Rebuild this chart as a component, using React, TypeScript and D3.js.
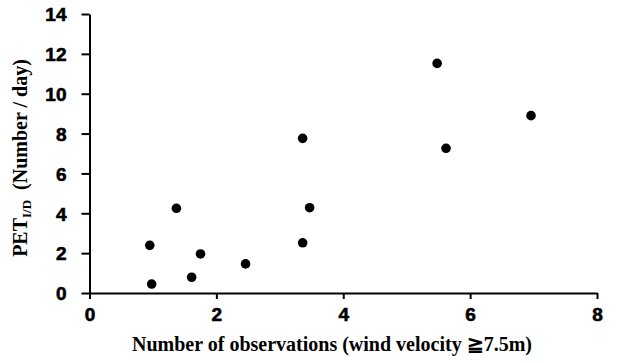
import React, { useEffect, useRef } from 'react';
import * as d3 from 'd3';

// observations (x) vs PET I/D (y)
const obsCount = [0.95, 0.98, 1.37, 1.61, 1.75, 2.46, 3.36, 3.36, 3.47, 5.48, 5.62, 6.96];
const petValues = [2.39, 0.45, 4.25, 0.79, 1.96, 1.46, 7.76, 2.52, 4.28, 11.52, 7.26, 8.9];
const xTicks = [0, 2, 4, 6, 8];
const yTicks = [0, 2, 4, 6, 8, 10, 12, 14];

export default function App() {
  const ref = useRef<SVGSVGElement | null>(null);

  useEffect(() => {
    const svg = d3.select(ref.current);
    svg.selectAll('*').remove();

    const x = d3.scaleLinear().domain([0, 8]).range([89.5, 597]);
    const y = d3.scaleLinear().domain([0, 14]).range([293, 14]);

    // x axis
    const gx = svg.append('g').attr('transform', `translate(0,${y(0)})`)
      .call(d3.axisBottom(x).tickValues(xTicks).tickSize(6).tickSizeOuter(0).tickPadding(9));
    // y axis
    const gy = svg.append('g').attr('transform', `translate(${x(0)},0)`)
      .call(d3.axisLeft(y).tickValues(yTicks).tickSize(8).tickSizeOuter(0).tickPadding(15));

    [gx, gy].forEach(g => {
      g.select('.domain').attr('stroke', '#000').attr('stroke-width', 2);
      g.selectAll('.tick line').attr('stroke', '#000').attr('stroke-width', 2);
      g.selectAll('.tick text')
        .attr('fill', '#000')
        .attr('stroke', '#000')
        .attr('stroke-width', 0.6)
        .style('font-family', '"Liberation Sans", Arial, sans-serif')
        .style('font-weight', 'bold')
        .style('font-size', '19px');
    });
    gy.selectAll('.tick text').attr('dy', '0.36em');

    // points
    svg.append('g').selectAll('circle')
      .data(obsCount.map((v, i) => [v, petValues[i]]))
      .enter().append('circle')
      .attr('cx', d => x(d[0]))
      .attr('cy', d => y(d[1]))
      .attr('r', 4.8)
      .attr('fill', '#000');

    // x label
    svg.append('text')
      .attr('x', 332)
      .attr('y', 351)
      .attr('text-anchor', 'middle')
      .style('font-family', '"Liberation Serif", "Times New Roman", serif')
      .style('font-weight', 'bold')
      .style('font-size', '20px')
      .text('Number of observations (wind velocity ≧7.5m)');

    // y label
    const yl = svg.append('text')
      .attr('transform', `translate(27,158) rotate(-90)`)
      .attr('text-anchor', 'middle')
      .style('font-family', '"Liberation Serif", "Times New Roman", serif')
      .style('font-weight', 'bold')
      .style('font-size', '20px');
    yl.append('tspan').text('PET');
    yl.append('tspan').attr('dy', 4).style('font-size', '13px').text('I/D');
    yl.append('tspan').attr('dy', -4).text('\u00a0\u00a0(Number / day)');
  }, []);

  return (
    <svg ref={ref} width={620} height={363}
      style={{ position: 'absolute', left: 0, top: 0, background: '#fff' }} />
  );
}
